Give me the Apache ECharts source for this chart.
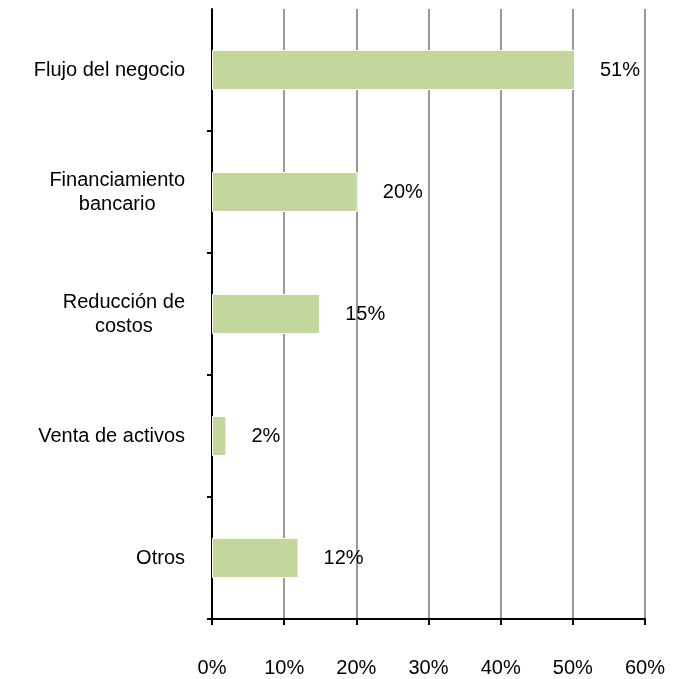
<!DOCTYPE html>
<html>
<head>
<meta charset="utf-8">
<script src="https://cdn.jsdelivr.net/npm/echarts@6/dist/echarts.min.js"></script>
<style>
  html, body { margin: 0; padding: 0; background: #fff; }
  #chart { width: 684px; height: 679px; }
</style>
</head>
<body>
<div id="chart"></div>
<script>
// datos
var categories = ['Flujo del negocio', 'Financiamiento\nbancario', 'Reducción de\ncostos', 'Venta de activos', 'Otros'];
var values = [50.3, 20.2, 15, 2, 12];
var labels = ['51%', '20%', '15%', '2%', '12%'];
var xTicks = [0, 10, 20, 30, 40, 50, 60];

var font = 'Liberation Sans, Arial, sans-serif';

var myChart = echarts.init(document.getElementById('chart'));
myChart.setOption({
    animation: false,
    grid: { left: 212, right: 39, top: 9, bottom: 60 },
    xAxis: {
        type: 'value',
        min: xTicks[0],
        max: xTicks[xTicks.length - 1],
        interval: xTicks[1] - xTicks[0],
        axisLine: { show: true, lineStyle: { color: '#000', width: 2 } },
        axisTick: { show: true, length: 6, lineStyle: { color: '#000', width: 2 } },
        axisLabel: { formatter: '{value}%', margin: 39, fontSize: 20, color: '#000', fontFamily: font },
        splitLine: { show: true, lineStyle: { color: '#999', width: 2 } }
    },
    yAxis: {
        type: 'category',
        inverse: true,
        data: categories,
        axisLine: { lineStyle: { color: '#000', width: 2 } },
        axisTick: {
            show: true, length: 5,
            interval: function (i) { return i !== 0; },
            lineStyle: { color: '#000', width: 2 }
        },
        axisLabel: {
            margin: 27,
            fontSize: 20,
            color: '#000',
            fontFamily: font,
            lineHeight: 24,
            formatter: function (v) {
                return v.split('\n').map(function (s) { return '{c|' + s + '}'; }).join('\n');
            },
            rich: { c: { align: 'center', fontSize: 20, fontFamily: font, color: '#000', lineHeight: 24 } }
        }
    },
    series: [{
        type: 'bar',
        data: values,
        barWidth: 40,
        z: 3,
        itemStyle: { color: '#c3d69b', borderColor: '#fff', borderWidth: 1 },
        label: {
            show: true,
            position: 'right',
            distance: 25,
            fontSize: 20,
            color: '#000',
            fontFamily: font,
            formatter: function (p) { return labels[p.dataIndex]; }
        }
    }]
});
</script>
</body>
</html>
